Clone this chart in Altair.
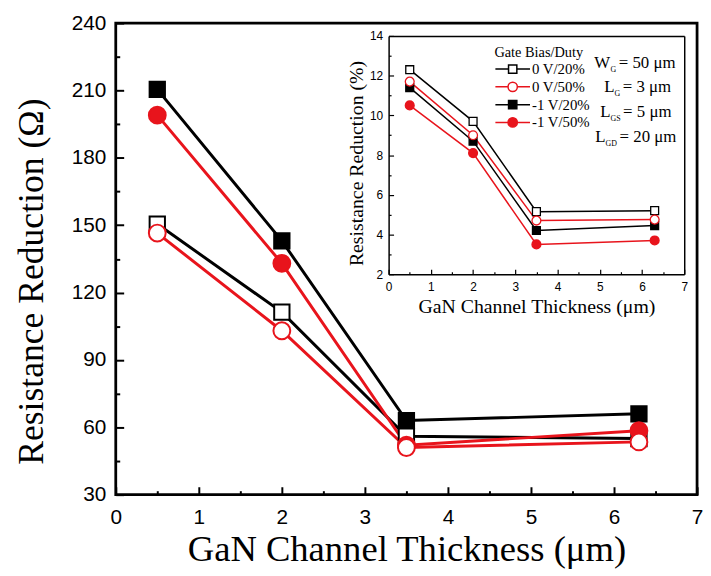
import altair as alt
import pandas as pd

# ---------------- data ----------------
series = ["0 V/20%", "0 V/50%", "-1 V/20%", "-1 V/50%"]
thickness = [0.5, 2.0, 3.5, 6.3]

# main plot: resistance reduction (Ohm)
main_0v20 = [150.5, 111.3, 56.0, 55.0]
main_0v50 = [146.5, 103.0, 51.0, 53.5]
main_m1v20 = [210.5, 143.0, 63.0, 66.0]
main_m1v50 = [199.0, 133.0, 52.0, 58.5]

# inset: resistance reduction (%)
inset_0v20 = [12.3, 9.7, 5.15, 5.2]
inset_0v50 = [11.7, 9.0, 4.7, 4.75]
inset_m1v20 = [11.4, 8.7, 4.2, 4.45]
inset_m1v50 = [10.5, 8.1, 3.5, 3.7]

x_major = [0, 1, 2, 3, 4, 5, 6, 7]
x_minor = [0.5, 1.5, 2.5, 3.5, 4.5, 5.5, 6.5]
main_y_major = [30, 60, 90, 120, 150, 180, 210, 240]
main_y_minor = [45, 75, 105, 135, 165, 195, 225]
inset_y_major = [2, 4, 6, 8, 10, 12, 14]
inset_y_minor = [3, 5, 7, 9, 11, 13]

main_x_title = "GaN Channel Thickness (μm)"
main_y_title = "Resistance Reduction (Ω)"
inset_x_title = "GaN Channel Thickness (μm)"
inset_y_title = "Resistance Reduction (%)"
legend_title = "Gate Bias/Duty"

annot_main = ["W", "L", "L", "L"]
annot_sub = ["G", "G", "GS", "GD"]
annot_rest = ["= 50 μm", "= 3 μm", "= 5 μm", "= 20 μm"]

# ---------------- tables ----------------
main_lists = [main_0v20, main_0v50, main_m1v20, main_m1v50]
inset_lists = [inset_0v20, inset_0v50, inset_m1v20, inset_m1v50]
main_df = pd.DataFrame(
    [{"series": s, "t": t, "v": v} for s, vals in zip(series, main_lists) for t, v in zip(thickness, vals)]
)
inset_df = pd.DataFrame(
    [{"series": s, "t": t, "v": v} for s, vals in zip(series, inset_lists) for t, v in zip(thickness, vals)]
)

# ---------------- layout / style ----------------
W, H = 588, 477
IX0, IX1 = 276, 575      # inset box, plot coordinates
IYT, IYB = 13, 254
SERIF = "Liberation Serif"
SANS = "Liberation Sans"
RED = "#e8141c"
BLACK = "#000000"

SQ_PATH = "M-1,0H-0.24M0.24,0H1M-0.24,-0.24H0.24V0.24H-0.24Z"
CI_PATH = "M-1,0H-0.27M0.27,0H1M0.27,0A0.27,0.27,0,1,1,-0.27,0A0.27,0.27,0,1,1,0.27,0Z"

stroke_scale = alt.Scale(domain=series, range=[BLACK, RED, BLACK, RED])
fill_scale = alt.Scale(domain=series, range=["#ffffff", "#ffffff", BLACK, RED])
shape_scale = alt.Scale(domain=series, range=[SQ_PATH, CI_PATH, SQ_PATH, CI_PATH])

main_xs = alt.Scale(domain=[0, 7], nice=False, zero=False)
main_ys = alt.Scale(domain=[30, 240], nice=False, zero=False)
inset_xs = alt.Scale(domain=[0, 7], nice=False, zero=False, range=[IX0, IX1])
inset_ys = alt.Scale(domain=[2, 14], nice=False, zero=False, range=[IYB, IYT])


def tick_axis(orient, offset, values, size, width):
    return alt.Axis(
        orient=orient, offset=offset, values=values, labels=False, domain=False, grid=False,
        ticks=True, tickColor=BLACK, tickWidth=width, tickSize=size, title=None,
    )


def frame_axis(orient, offset, width):
    return alt.Axis(
        orient=orient, offset=offset, labels=False, ticks=False, grid=False,
        domain=True, domainColor=BLACK, domainWidth=width, title=None,
    )


# main axes
mx_lab = alt.Axis(
    orient="bottom", values=x_major, format="d", domain=False, ticks=False, grid=False,
    labelFont=SANS, labelFontSize=21, labelColor=BLACK, labelPadding=12,
    labelFlush=False, labelOverlap=False,
    title=main_x_title, titleFont=SERIF, titleFontSize=37, titleFontWeight="normal",
    titleColor=BLACK, titlePadding=5,
)
my_lab = alt.Axis(
    orient="left", values=main_y_major, format="d", domain=False, ticks=False, grid=False,
    labelFont=SANS, labelFontSize=21, labelColor=BLACK, labelPadding=10,
    labelFlush=False, labelOverlap=False,
    title=main_y_title, titleFont=SERIF, titleFontSize=36, titleFontWeight="normal",
    titleColor=BLACK, titlePadding=21, titleY=261,
)
mx_major = tick_axis("top", -H, x_major, 8, 2)
my_major = tick_axis("right", -W, main_y_major, 8, 2)
mx_minor = tick_axis("top", -H, x_minor, 4, 2)
my_minor = tick_axis("right", -W, main_y_minor, 4, 2)

# inset axes
ix_lab = alt.Axis(
    orient="bottom", offset=IYB - H, values=x_major, format="d", domain=True,
    domainColor=BLACK, domainWidth=1.5, ticks=False, grid=False,
    labelFont=SANS, labelFontSize=12, labelColor=BLACK, labelPadding=7,
    labelFlush=False, labelOverlap=False,
    title=inset_x_title, titleFont=SERIF, titleFontSize=20, titleFontWeight="normal",
    titleColor=BLACK, titlePadding=5,
)
iy_lab = alt.Axis(
    orient="left", offset=-IX0, values=inset_y_major, format="d", domain=True,
    domainColor=BLACK, domainWidth=1.5, ticks=False, grid=False,
    labelFont=SANS, labelFontSize=12, labelColor=BLACK, labelPadding=6,
    labelFlush=False, labelOverlap=False,
    title=inset_y_title, titleFont=SERIF, titleFontSize=20, titleFontWeight="normal",
    titleColor=BLACK, titlePadding=3, titleY=141.5,
)
ix_major = tick_axis("top", -IYB, x_major, 5, 1.2)
iy_major = tick_axis("right", IX0 - W, inset_y_major, 5, 1.2)
ix_minor = tick_axis("top", -IYB, x_minor, 2.5, 1.2)
iy_minor = tick_axis("right", IX0 - W, inset_y_minor, 2.5, 1.2)
ix_frame = frame_axis("top", -IYT, 1.5)
iy_frame = frame_axis("right", IX1 - W, 1.5)

stroke_enc = alt.Stroke("series:N", scale=stroke_scale, title=legend_title)
fill_enc = alt.Fill("series:N", scale=fill_scale, title=legend_title)


def points(df, xs, ys, keep, shape, size, sw, xaxis, yaxis):
    return alt.Chart(df).transform_filter(
        alt.FieldEqualPredicate(field="series", equal=keep)
    ).mark_point(shape=shape, size=size, opacity=1, strokeWidth=sw).encode(
        x=alt.X("t:Q", scale=xs, axis=xaxis),
        y=alt.Y("v:Q", scale=ys, axis=yaxis),
        stroke=stroke_enc, fill=fill_enc,
    )


# ---------------- main plot ----------------
m_line = alt.Chart(main_df).mark_line(strokeWidth=3).encode(
    x=alt.X("t:Q", scale=main_xs, axis=mx_lab),
    y=alt.Y("v:Q", scale=main_ys, axis=my_lab),
    stroke=stroke_enc,
)
main = alt.layer(
    m_line,
    points(main_df, main_xs, main_ys, "-1 V/20%", "square", 240, 2, mx_major, my_major),
    points(main_df, main_xs, main_ys, "0 V/20%", "square", 240, 2, mx_minor, my_minor),
    points(main_df, main_xs, main_ys, "-1 V/50%", "circle", 290, 2, None, None),
    points(main_df, main_xs, main_ys, "0 V/50%", "circle", 290, 2, None, None),
).resolve_axis(x="independent", y="independent")

# ---------------- inset ----------------
i_line = alt.Chart(inset_df).mark_line(strokeWidth=1.5).encode(
    x=alt.X("t:Q", scale=inset_xs, axis=ix_lab),
    y=alt.Y("v:Q", scale=inset_ys, axis=iy_lab),
    stroke=stroke_enc,
)
inset = alt.layer(
    i_line,
    points(inset_df, inset_xs, inset_ys, "-1 V/20%", "square", 64, 1.3, ix_major, iy_major),
    points(inset_df, inset_xs, inset_ys, "0 V/20%", "square", 64, 1.3, ix_minor, iy_minor),
    points(inset_df, inset_xs, inset_ys, "-1 V/50%", "circle", 80, 1.3, ix_frame, iy_frame),
    points(inset_df, inset_xs, inset_ys, "0 V/50%", "circle", 80, 1.3, None, None),
).resolve_axis(x="independent", y="independent")

# ---------------- legend (library legend; this layer draws no marks) ----------------
legend_layer = alt.Chart(main_df).transform_filter("false").mark_point(
    opacity=1, strokeWidth=1.5, filled=False
).encode(
    stroke=stroke_enc,
    fill=fill_enc,
    shape=alt.Shape("series:N", scale=shape_scale, title=legend_title),
)

# ---------------- annotation text (with subscripts) ----------------
main_x_px = [484, 494, 490, 485]
sub_x_px = [500.5, 504.5, 500.5, 495.5]
rest_x_px = [508.8, 512.8, 513.2, 509.6]
line_y_px = [40, 65, 90, 115]

text_layers = []
for i in range(len(annot_main)):
    for txt, xpx, dy, size in (
        (annot_main[i], main_x_px[i], 0, 17),
        (annot_sub[i], sub_x_px[i], 7, 8),
        (annot_rest[i], rest_x_px[i], 0, 17),
    ):
        text_layers.append(
            alt.Chart(pd.DataFrame({"txt": [txt]})).mark_text(
                align="left", baseline="middle", font=SERIF, fontSize=size, color=BLACK,
                x=xpx, y=line_y_px[i] + dy,
            ).encode(text="txt:N")
        )

chart = alt.layer(main, inset, legend_layer, *text_layers).resolve_scale(
    x="independent", y="independent"
).properties(
    width=W, height=H,
    padding={"left": 109, "top": 12, "right": 6, "bottom": 78},
    autosize=alt.AutoSizeParams(type="none"),
).configure_view(
    stroke=BLACK, strokeWidth=2.8
).configure_legend(
    orient="none", legendX=383, legendY=23, padding=0,
    titleFont=SERIF, titleFontSize=14.5, titleFontWeight="normal", titleColor=BLACK,
    titlePadding=1, titleAnchor="start",
    labelFont=SERIF, labelFontSize=15, labelColor=BLACK, labelOffset=1,
    symbolSize=1225, symbolStrokeWidth=1.5, clipHeight=16, rowPadding=2,
)

chart.save("out.html", embed_options={"renderer": "svg", "actions": False})
